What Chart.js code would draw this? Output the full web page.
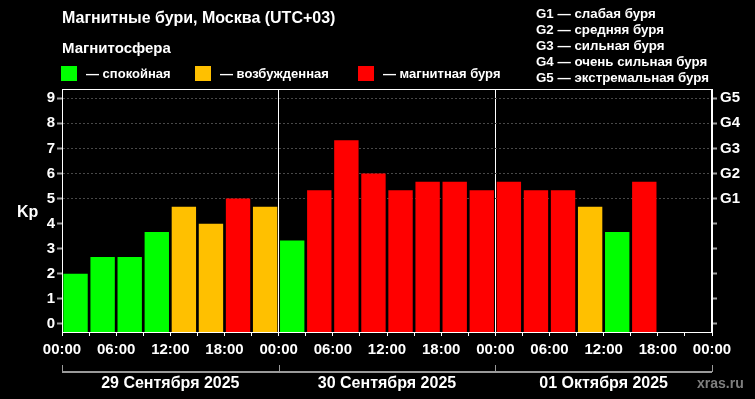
<!DOCTYPE html>
<html>
<head>
<meta charset="utf-8">
<script src="https://cdn.jsdelivr.net/npm/chart.js@4.4.0/dist/chart.umd.min.js"></script>
<style>
  html, body { margin: 0; padding: 0; background: #000; }
</style>
</head>
<body>
<canvas id="kpChart" width="755" height="399"></canvas>
<script>
// Kp index, one value per 3 hour slot, starting 29.09 00:00 (last two slots have no data yet)
const kpValues = [2.00, 2.67, 2.67, 3.67, 4.67, 4.00, 5.00, 4.67,
                  3.33, 5.33, 7.33, 6.00, 5.33, 5.67, 5.67, 5.33,
                  5.67, 5.33, 5.33, 4.67, 3.67, 5.67];
const slotHours = 3;
const totalHours = 72;
const timeLabels = ['00:00', '06:00', '12:00', '18:00'];
const dayLabels = ['29 Сентября 2025', '30 Сентября 2025', '01 Октября 2025'];
const kpTicks = [0, 1, 2, 3, 4, 5, 6, 7, 8, 9];
const gTicks = ['G1', 'G2', 'G3', 'G4', 'G5'];
const gLegend = ['G1 — слабая буря', 'G2 — средняя буря', 'G3 — сильная буря',
                 'G4 — очень сильная буря', 'G5 — экстремальная буря'];
const stateLabels = ['— спокойная', '— возбужденная', '— магнитная буря'];
const stateColors = ['#00ff00', '#ffc000', '#ff0000'];

const Y_MIN = -0.32, Y_MAX = 9.37;
const FONT = '"Liberation Sans", Arial, sans-serif';

function kpColor(v) {
    if (v < 4) return stateColors[0];
    if (v < 5) return stateColors[1];
    return stateColors[2];
}

Chart.defaults.font.family = FONT;
Chart.defaults.font.weight = 'bold';
Chart.defaults.color = '#fff';

const decor = {
    id: 'decor',
    beforeDraw(chart) {
        const c = chart.ctx;
        c.save();
        c.fillStyle = '#000';
        c.fillRect(0, 0, chart.width, chart.height);
        c.restore();
    },
    afterDraw(chart) {
        const c = chart.ctx;
        const a = chart.chartArea;
        const x = chart.scales.x;
        c.save();

        // frame
        c.strokeStyle = '#fff';
        c.lineWidth = 1;
        c.strokeRect(a.left + 0.5, a.top + 0.5, a.right - a.left - 1, a.bottom - a.top);

        c.fillStyle = '#fff';
        c.textBaseline = 'alphabetic';
        c.textAlign = 'left';
        c.font = 'bold 16px ' + FONT;
        c.fillText('Магнитные бури, Москва (UTC+03)', 62, 23);
        c.font = 'bold 15px ' + FONT;
        c.fillText('Магнитосфера', 62, 53);

        // state legend
        const boxX = [61, 195, 358];
        c.font = 'bold 13px ' + FONT;
        stateLabels.forEach((t, i) => {
            c.fillStyle = stateColors[i];
            c.fillRect(boxX[i], 66, 16, 15);
            c.fillStyle = '#fff';
            c.fillText(t, boxX[i] + 25, 78);
        });

        // G legend
        c.font = 'bold 13.3px ' + FONT;
        gLegend.forEach((t, i) => c.fillText(t, 536, 18 + i * 16));

        c.font = 'bold 16px ' + FONT;
        c.fillText('Kp', 17, 217);

        // day bracket
        c.strokeStyle = '#9a9a9a';
        c.lineWidth = 2;
        c.beginPath();
        c.moveTo(x.getPixelForValue(0), 372);
        c.lineTo(x.getPixelForValue(totalHours), 372);
        c.stroke();
        c.lineWidth = 1;
        for (let d = 0; d <= dayLabels.length; d++) {
            const px = Math.round(x.getPixelForValue(d * 24)) + 0.5;
            c.beginPath();
            c.moveTo(px, 365);
            c.lineTo(px, 372);
            c.stroke();
        }
        c.textAlign = 'center';
        c.fillStyle = '#fff';
        dayLabels.forEach((t, d) => {
            c.fillText(t, x.getPixelForValue(d * 24 + 12), 388);
        });

        c.textAlign = 'left';
        c.fillStyle = '#7f7f7f';
        c.font = 'bold 14px ' + FONT;
        c.fillText('xras.ru', 697, 388);
        c.restore();
    }
};

const hourTicks = [];
for (let h = 0; h <= totalHours; h += slotHours) hourTicks.push(h);

new Chart(document.getElementById('kpChart'), {
    type: 'bar',
    data: {
        datasets: [{
            data: kpValues.map((v, i) => ({ x: i * slotHours + slotHours / 2, y: v })),
            backgroundColor: kpValues.map(kpColor),
            base: Y_MIN,
            barPercentage: 0.9,
            categoryPercentage: 1
        }]
    },
    options: {
        responsive: false,
        animation: false,
        devicePixelRatio: 1,
        layout: { padding: { top: 89 } },
        plugins: { legend: { display: false }, tooltip: { enabled: false } },
        scales: {
            x: {
                type: 'linear',
                min: 0,
                max: totalHours,
                offset: false,
                afterBuildTicks: s => { s.ticks = hourTicks.map(v => ({ value: v })); },
                afterFit: s => { s.height = 67; },
                ticks: {
                    autoSkip: false,
                    maxRotation: 0,
                    padding: 5,
                    font: { size: 15 },
                    callback: v => v % 6 === 0 ? timeLabels[(v % 24) / 6] : ''
                },
                grid: {
                    offset: false,
                    color: ctx => ctx.tick && ctx.tick.value % 24 === 0 ? '#fff' : 'rgba(0,0,0,0)',
                    tickColor: '#fff',
                    tickLength: 4
                },
                border: { color: '#fff' }
            },
            y: {
                position: 'left',
                min: Y_MIN,
                max: Y_MAX,
                afterBuildTicks: s => { s.ticks = kpTicks.map(v => ({ value: v })); },
                afterFit: s => { s.width = 62; },
                ticks: { padding: 2, font: { size: 15 } },
                grid: {
                    color: ctx => ctx.tick && ctx.tick.value >= 5 ? '#484848' : 'rgba(0,0,0,0)',
                    tickColor: '#a0a0a0',
                    tickWidth: 2,
                    tickLength: 5
                },
                border: { color: '#fff', dash: [2, 2] }
            },
            y2: {
                position: 'right',
                min: Y_MIN,
                max: Y_MAX,
                afterBuildTicks: s => { s.ticks = kpTicks.map(v => ({ value: v })); },
                afterFit: s => { s.width = 43; },
                ticks: {
                    padding: 3,
                    font: { size: 15 },
                    callback: v => v >= 5 ? gTicks[v - 5] : ''
                },
                grid: { drawOnChartArea: false, tickColor: '#a0a0a0', tickWidth: 2, tickLength: 5 },
                border: { color: '#fff' }
            }
        }
    },
    plugins: [decor]
});
</script>
</body>
</html>
